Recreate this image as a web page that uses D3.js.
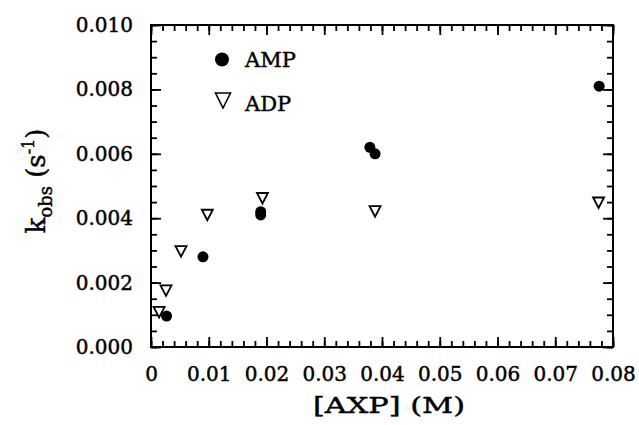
<!DOCTYPE html>
<html>
<head>
<meta charset="utf-8">
<script src="https://cdn.jsdelivr.net/npm/d3@7"></script>
<style>
  html, body { margin: 0; padding: 0; background: #fff; }
  svg { display: block; }
  text { font-family: "DejaVu Serif", serif; fill: #000; stroke: #000; stroke-width: 0.45px; }
</style>
</head>
<body>
<svg id="chart" width="639" height="425"></svg>
<script>
// AXP concentration (M) and observed rate constant (s^-1)
const ampX = [0.0027, 0.0090, 0.0190, 0.0190, 0.0379, 0.0388, 0.0776];
const ampY = [0.00096, 0.0028, 0.0042, 0.0041, 0.0062, 0.0060, 0.0081];
const adpX = [0.0014, 0.0026, 0.0052, 0.00975, 0.0193, 0.0388, 0.0775];
const adpY = [0.00108, 0.00175, 0.00297, 0.0041, 0.00462, 0.00421, 0.00448];

const xTicks = [0, 0.01, 0.02, 0.03, 0.04, 0.05, 0.06, 0.07, 0.08];
const xTickLabels = ["0", "0.01", "0.02", "0.03", "0.04", "0.05", "0.06", "0.07", "0.08"];
const yTicks = [0, 0.002, 0.004, 0.006, 0.008, 0.010];
const yTickLabels = ["0.000", "0.002", "0.004", "0.006", "0.008", "0.010"];
const legendLabels = ["AMP", "ADP"];

const svg = d3.select("#chart");
const L = 151, R = 613, T = 25, B = 347;

const x = d3.scaleLinear().domain([0, 0.08]).range([L, R]);
const y = d3.scaleLinear().domain([0, 0.010]).range([B, T]);

const xMinor = d3.range(0, 41).map(i => i * 0.002);
const yMinor = d3.range(0, 21).map(i => i * 0.0005);
const MAJOR = 10, MINOR = 6;

// frame
svg.append("rect").attr("x", L).attr("y", T).attr("width", R - L).attr("height", B - T)
  .attr("fill", "none").attr("stroke", "#000").attr("stroke-width", 2);

// inward tick marks: each edge uses the axis that points into the plot
function edge(axisFn, scale, vals, len, tx, ty) {
  const g = svg.append("g").attr("transform", `translate(${tx},${ty})`)
    .call(axisFn(scale).tickValues(vals).tickSize(len).tickFormat(() => ""));
  g.select(".domain").remove();
  g.selectAll(".tick line").attr("stroke", "#000").attr("stroke-width", 1.8);
}
[[xMinor, MINOR], [xTicks, MAJOR]].forEach(([vals, len]) => {
  edge(d3.axisTop, x, vals, len, 0, B);
  edge(d3.axisBottom, x, vals, len, 0, T);
});
[[yMinor, MINOR], [yTicks, MAJOR]].forEach(([vals, len]) => {
  edge(d3.axisRight, y, vals, len, L, 0);
  edge(d3.axisLeft, y, vals, len, R, 0);
});

// tick labels
const xLab = svg.append("g").attr("transform", `translate(0,${B})`)
  .call(d3.axisBottom(x).tickValues(xTicks).tickSize(0).tickPadding(20)
    .tickFormat((d, i) => xTickLabels[i]));
xLab.select(".domain").remove();
xLab.selectAll("text").attr("font-family", "DejaVu Serif").attr("font-size", 20)
  .attr("y", 34).attr("dy", null).attr("fill", "#000");

const yLab = svg.append("g").attr("transform", `translate(${L},0)`)
  .call(d3.axisLeft(y).tickValues(yTicks).tickSize(0).tickPadding(18)
    .tickFormat((d, i) => yTickLabels[i]));
yLab.select(".domain").remove();
yLab.selectAll("text").attr("font-family", "DejaVu Serif").attr("font-size", 20)
  .attr("fill", "#000");

// markers
function triPath(cx, cy, w, h) {
  return `M${cx - w / 2},${cy - h / 2}L${cx + w / 2},${cy - h / 2}L${cx},${cy + h / 2}Z`;
}

svg.append("g").selectAll("path")
  .data(adpX.map((v, i) => [v, adpY[i]]))
  .join("path")
  .attr("d", d => triPath(x(d[0]), y(d[1]), 11, 10.5))
  .attr("fill", "#fff").attr("stroke", "#000").attr("stroke-width", 1.8);

svg.append("g").selectAll("circle")
  .data(ampX.map((v, i) => [v, ampY[i]]))
  .join("circle")
  .attr("cx", d => x(d[0])).attr("cy", d => y(d[1])).attr("r", 5.5)
  .attr("fill", "#000");

// legend
const lg = svg.append("g");
lg.append("circle").attr("cx", 222).attr("cy", 59.5).attr("r", 7).attr("fill", "#000");
lg.append("path").attr("d", triPath(223, 100.5, 15, 15))
  .attr("fill", "#fff").attr("stroke", "#000").attr("stroke-width", 1.6);
lg.append("text").attr("x", 245).attr("y", 67).attr("font-size", 21).text(legendLabels[0]);
lg.append("text").attr("x", 245).attr("y", 111).attr("font-size", 21).text(legendLabels[1]);

// axis titles
svg.append("text").attr("x", 389).attr("y", 413).attr("text-anchor", "middle")
  .attr("font-size", 23).attr("textLength", 152).attr("lengthAdjust", "spacingAndGlyphs")
  .text("[AXP] (M)");

const yt = svg.append("text")
  .attr("transform", "translate(45,181) rotate(-90)")
  .attr("text-anchor", "middle").attr("font-size", 26);
yt.append("tspan").text("k");
yt.append("tspan").attr("font-size", 18).attr("dy", 7).text("obs");
yt.append("tspan").attr("dy", -7).text(" (s");
yt.append("tspan").attr("font-size", 16).attr("dy", -11).text("-1");
yt.append("tspan").attr("dy", 11).text(")");
</script>
</body>
</html>
